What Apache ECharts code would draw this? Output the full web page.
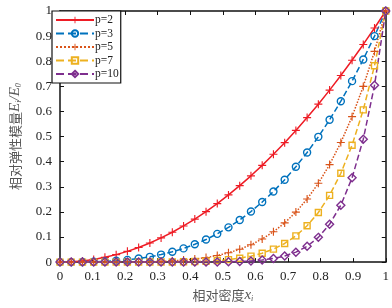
<!DOCTYPE html>
<html>
<head>
<meta charset="utf-8">
<script src="https://cdn.jsdelivr.net/npm/echarts@6/dist/echarts.min.js"></script>
<style>
html,body{margin:0;padding:0;background:#fff;}
#main{width:392px;height:308px;}
</style>
</head>
<body>
<div id="main"></div>
<script>
// relative density x (30 samples)
var xs = [0,0.0345,0.0690,0.1034,0.1379,0.1724,0.2069,0.2414,0.2759,0.3103,
    0.3448,0.3793,0.4138,0.4483,0.4828,0.5172,0.5517,0.5862,0.6207,0.6552,
    0.6897,0.7241,0.7586,0.7931,0.8276,0.8621,0.8966,0.9310,0.9655,1];
var p2 = [0,0.0012,0.0048,0.0107,0.0190,0.0297,0.0428,0.0583,0.0761,0.0963,
    0.1189,0.1439,0.1712,0.2010,0.2331,0.2675,0.3044,0.3436,0.3853,0.4293,
    0.4756,0.5244,0.5755,0.6290,0.6849,0.7432,0.8038,0.8668,0.9322,1];
var p3 = [0,0.0000,0.0003,0.0011,0.0026,0.0051,0.0089,0.0141,0.0210,0.0299,
    0.0410,0.0546,0.0709,0.0901,0.1125,0.1384,0.1679,0.2014,0.2391,0.2812,
    0.3280,0.3797,0.4366,0.4989,0.5668,0.6407,0.7207,0.8070,0.9001,1];
var p5 = [0,0,0,0,0.0000,0.0002,0.0004,0.0008,0.0016,0.0029,
    0.0049,0.0079,0.0121,0.0181,0.0262,0.0370,0.0511,0.0692,0.0921,0.1207,
    0.1560,0.1991,0.2513,0.3138,0.3882,0.4761,0.5793,0.6996,0.8391,1];
var p7 = [0,0,0,0,0,0,0,0,0.0001,0.0003,
    0.0006,0.0011,0.0021,0.0036,0.0061,0.0099,0.0156,0.0238,0.0355,0.0518,
    0.0742,0.1044,0.1446,0.1974,0.2659,0.3538,0.4656,0.6064,0.7822,1];
var p10 = [0,0,0,0,0,0,0,0,0,0,
    0.0000,0.0001,0.0001,0.0003,0.0007,0.0014,0.0026,0.0048,0.0085,0.0146,
    0.0243,0.0396,0.0631,0.0985,0.1507,0.2267,0.3355,0.4894,0.7040,1];
var ticks = [0,0.1,0.2,0.3,0.4,0.5,0.6,0.7,0.8,0.9,1];

var serif = 'Liberation Serif';
var plus = 'path://M4.3,0h1.4v10h-1.4zM0,4.3h10v1.4h-10z';

function pairs(ys){
    var out = [];
    for(var i=0;i<xs.length;i++){ out.push([xs[i],ys[i]]); }
    return out;
}
function mk(name,ys,color,type,symbol,size){
    var filled = symbol.indexOf('path://')==0;
    return {
        name:name, type:'line', data:pairs(ys),
        symbol:symbol, symbolSize:size, showAllSymbol:true,
        lineStyle:{color:color,width:1.5,type:type},
        itemStyle:filled ? {color:color,borderWidth:0}
            : {color:'rgba(255,255,255,0)',borderColor:color,borderWidth:1.4},
        z: 3
    };
}

var chart = echarts.init(document.getElementById('main'));
var axisLbl = {color:'#222',fontFamily:serif,fontSize:13,
    formatter:function(v){return ticks.indexOf(v)>=0?String(v):'';}};
var nameRich = {
    a:{fontFamily:'Noto Sans CJK SC',fontSize:13,color:'#555'},
    i:{fontFamily:serif,fontStyle:'italic',fontSize:15,color:'#555'},
    s:{fontFamily:serif,fontStyle:'italic',fontSize:8,color:'#555',verticalAlign:'bottom',padding:[7,0,0,0]}
};
var option = {
    animation:false,
    grid:{left:52,right:3,top:11,bottom:42},
    legend:{
        left:52,top:11,orient:'vertical',
        itemWidth:38,itemHeight:8,itemGap:1.5,
        padding:[3,2,3,3],
        backgroundColor:'#fff',borderColor:'#111',borderWidth:1.2,
        textStyle:{fontFamily:serif,fontSize:11.5,color:'#222',lineHeight:11.5,padding:[0,0,0,-4]},
        data:['p=2','p=3','p=5','p=7','p=10']
    },
    xAxis:[{
        type:'value',min:0,max:1,interval:0.1,
        name:'{a|相对密度}{i|x}{s|i}',nameLocation:'middle',nameGap:24,
        nameTextStyle:{rich:nameRich},
        axisLine:{lineStyle:{color:'#111',width:1.5}},
        axisTick:{inside:true,length:4,lineStyle:{color:'#111'}},
        axisLabel:axisLbl,
        splitLine:{show:false}
    },{
        type:'value',min:0,max:1,interval:0.1,position:'top',
        axisLine:{onZero:false,lineStyle:{color:'#111',width:1.5}},
        axisTick:{inside:true,length:4,lineStyle:{color:'#111'}},
        axisLabel:{show:false},splitLine:{show:false}
    }],
    yAxis:[{
        type:'value',min:0,max:1,interval:0.1,
        name:'{a|相对弹性模量}{i|E}{s|i}{i|/E}{s|0}',nameLocation:'middle',nameGap:37,
        nameTextStyle:{rich:nameRich},
        axisLine:{lineStyle:{color:'#111',width:1.5}},
        axisTick:{inside:true,length:4,lineStyle:{color:'#111'}},
        axisLabel:axisLbl,
        splitLine:{show:false}
    },{
        type:'value',min:0,max:1,interval:0.1,position:'right',
        axisLine:{show:true,onZero:false,lineStyle:{color:'#111',width:1.5}},
        axisTick:{inside:true,length:4,lineStyle:{color:'#111'}},
        axisLabel:{show:false},splitLine:{show:false}
    }],
    series:[
        mk('p=2',p2,'#ee1c25','solid',plus,8),
        mk('p=3',p3,'#0072bd','dashed','circle',7),
        mk('p=5',p5,'#d95319','dotted',plus,8),
        mk('p=7',p7,'#edb120','dashed','rect',6),
        mk('p=10',p10,'#7e2f8e','dashed','diamond',8)
    ]
};
chart.setOption(option);
</script>
</body>
</html>
